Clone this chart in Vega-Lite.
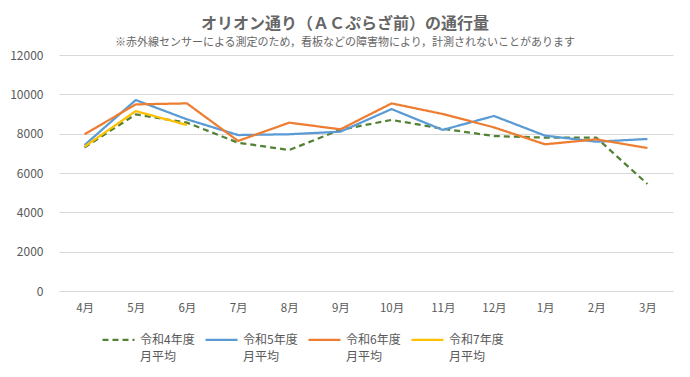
{
  "$schema": "https://vega.github.io/schema/vega-lite/v6.json",
  "autosize": {"type": "none"},
  "width": 614,
  "height": 236,
  "padding": {"left": 59, "top": 55, "right": 17, "bottom": 86},
  "background": "white",
  "config": {
    "font": "Noto Sans CJK JP",
    "view": {"stroke": null}
  },
  "title": {
    "text": "オリオン通り（ＡＣぷらざ前）の通行量",
    "subtitle": "※赤外線センサーによる測定のため，看板などの障害物により，計測されないことがあります",
    "anchor": "middle",
    "frame": "group",
    "dx": -21,
    "font": "Noto Sans CJK JP",
    "fontSize": 16,
    "fontWeight": "bold",
    "color": "#666666",
    "subtitleFont": "Noto Sans CJK JP",
    "subtitleFontSize": 11,
    "subtitleColor": "#666666",
    "subtitlePadding": 5,
    "offset": 1
  },
  "data": {
    "values": [
      {"month": "4月", "series": "令和4年度 月平均", "value": 7300},
      {"month": "5月", "series": "令和4年度 月平均", "value": 8980},
      {"month": "6月", "series": "令和4年度 月平均", "value": 8560},
      {"month": "7月", "series": "令和4年度 月平均", "value": 7540},
      {"month": "8月", "series": "令和4年度 月平均", "value": 7170},
      {"month": "9月", "series": "令和4年度 月平均", "value": 8200},
      {"month": "10月", "series": "令和4年度 月平均", "value": 8700},
      {"month": "11月", "series": "令和4年度 月平均", "value": 8250},
      {"month": "12月", "series": "令和4年度 月平均", "value": 7880},
      {"month": "1月", "series": "令和4年度 月平均", "value": 7800},
      {"month": "2月", "series": "令和4年度 月平均", "value": 7800},
      {"month": "3月", "series": "令和4年度 月平均", "value": 5440},
      {"month": "4月", "series": "令和5年度 月平均", "value": 7420},
      {"month": "5月", "series": "令和5年度 月平均", "value": 9710},
      {"month": "6月", "series": "令和5年度 月平均", "value": 8730},
      {"month": "7月", "series": "令和5年度 月平均", "value": 7930},
      {"month": "8月", "series": "令和5年度 月平均", "value": 7970},
      {"month": "9月", "series": "令和5年度 月平均", "value": 8100},
      {"month": "10月", "series": "令和5年度 月平均", "value": 9250},
      {"month": "11月", "series": "令和5年度 月平均", "value": 8190},
      {"month": "12月", "series": "令和5年度 月平均", "value": 8900},
      {"month": "1月", "series": "令和5年度 月平均", "value": 7900},
      {"month": "2月", "series": "令和5年度 月平均", "value": 7590},
      {"month": "3月", "series": "令和5年度 月平均", "value": 7730},
      {"month": "4月", "series": "令和6年度 月平均", "value": 7970},
      {"month": "5月", "series": "令和6年度 月平均", "value": 9490},
      {"month": "6月", "series": "令和6年度 月平均", "value": 9540},
      {"month": "7月", "series": "令和6年度 月平均", "value": 7630},
      {"month": "8月", "series": "令和6年度 月平均", "value": 8560},
      {"month": "9月", "series": "令和6年度 月平均", "value": 8220},
      {"month": "10月", "series": "令和6年度 月平均", "value": 9540},
      {"month": "11月", "series": "令和6年度 月平均", "value": 9000},
      {"month": "12月", "series": "令和6年度 月平均", "value": 8320},
      {"month": "1月", "series": "令和6年度 月平均", "value": 7460},
      {"month": "2月", "series": "令和6年度 月平均", "value": 7710},
      {"month": "3月", "series": "令和6年度 月平均", "value": 7270},
      {"month": "4月", "series": "令和7年度 月平均", "value": 7340},
      {"month": "5月", "series": "令和7年度 月平均", "value": 9150},
      {"month": "6月", "series": "令和7年度 月平均", "value": 8440}
    ]
  },
  "mark": {"type": "line", "strokeCap": "butt", "strokeJoin": "round"},
  "encoding": {
    "x": {
      "field": "month",
      "type": "ordinal",
      "sort": ["4月", "5月", "6月", "7月", "8月", "9月", "10月", "11月", "12月", "1月", "2月", "3月"],
      "title": null,
      "axis": {
        "labelAngle": 0,
        "ticks": false,
        "domainColor": "#d9d9d9",
        "labelColor": "#595959",
        "labelFontSize": 11.5,
        "labelPadding": 11,
        "grid": false
      }
    },
    "y": {
      "field": "value",
      "type": "quantitative",
      "scale": {"domain": [0, 12000], "nice": false},
      "title": null,
      "axis": {
        "values": [0, 2000, 4000, 6000, 8000, 10000, 12000],
        "ticks": false,
        "domain": false,
        "gridColor": "#d9d9d9",
        "labelColor": "#595959",
        "labelFontSize": 12,
        "labelPadding": 16,
        "format": "d"
      }
    },
    "color": {
      "field": "series",
      "type": "nominal",
      "scale": {
        "domain": ["令和4年度 月平均", "令和5年度 月平均", "令和6年度 月平均", "令和7年度 月平均"],
        "range": ["#548235", "#5b9bd5", "#ed7d31", "#ffc000"]
      },
      "legend": {
        "title": null,
        "orient": "none",
        "legendX": 42,
        "legendY": 267,
        "direction": "horizontal",
        "columns": 4,
        "columnPadding": 6,
        "symbolType": "stroke",
        "symbolSize": 1024,
        "labelOffset": 4,
        "labelFontSize": 12,
        "labelColor": "#595959",
        "labelBaseline": "middle",
        "labelExpr": "split(datum.label, ' ')",
        "encode": {
          "labels": {"update": {"lineHeight": {"value": 17}}}
        }
      }
    },
    "strokeDash": {
      "field": "series",
      "type": "nominal",
      "scale": {
        "domain": ["令和4年度 月平均", "令和5年度 月平均", "令和6年度 月平均", "令和7年度 月平均"],
        "range": [[6, 4], [1, 0], [1, 0], [1, 0]]
      },
      "legend": null
    },
    "strokeWidth": {
      "field": "series",
      "type": "nominal",
      "scale": {
        "domain": ["令和4年度 月平均", "令和5年度 月平均", "令和6年度 月平均", "令和7年度 月平均"],
        "range": [2.25, 2.25, 3.5, 3.5]
      },
      "legend": null
    }
  }
}
